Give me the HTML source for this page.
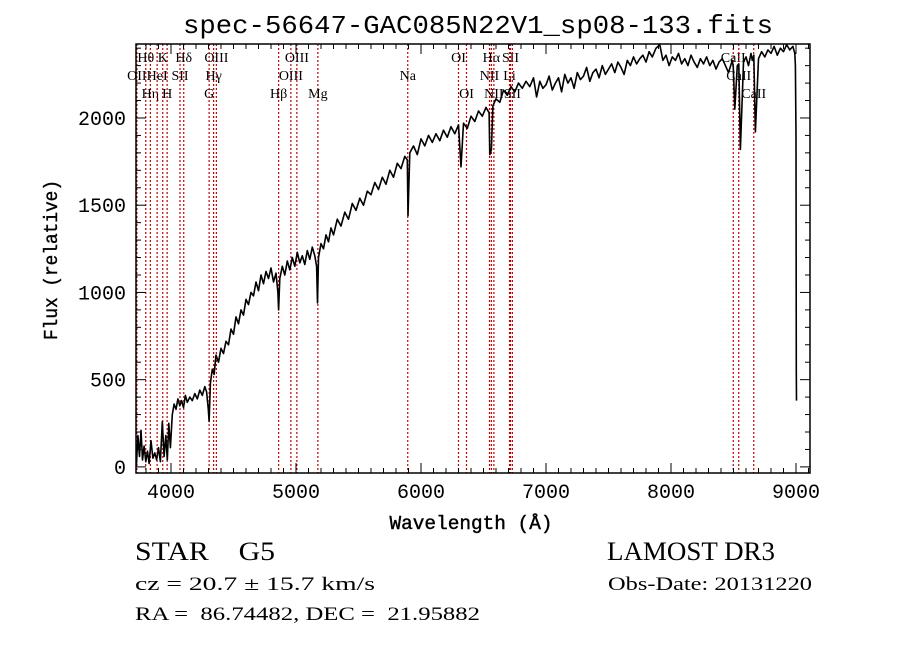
<!DOCTYPE html>
<html><head><meta charset="utf-8"><style>
html,body{margin:0;padding:0;background:#fff;}
svg{display:block;}
text{fill:#000;white-space:pre;}
</style></head><body>
<svg id="chart" width="900" height="649" viewBox="0 0 900 649" xmlns="http://www.w3.org/2000/svg" xml:space="preserve">
<rect width="900" height="649" fill="#fff"/>
<text x="478" y="33" font-family="Liberation Mono, monospace" font-size="26" text-anchor="middle" textLength="590" lengthAdjust="spacingAndGlyphs">spec-56647-GAC085N22V1_sp08-133.fits</text>
<g id="lines"></g>
<g id="spec"></g>
<g id="axes"></g>
<text x="471" y="529" font-family="Liberation Mono, monospace" font-size="19" text-anchor="middle" textLength="163" lengthAdjust="spacingAndGlyphs" stroke="#000" stroke-width="0.4">Wavelength (Å)</text>
<text transform="translate(57,260) rotate(-90)" font-family="Liberation Mono, monospace" font-size="19" text-anchor="middle" textLength="160" lengthAdjust="spacingAndGlyphs" stroke="#000" stroke-width="0.4">Flux (relative)</text>
<text x="135" y="560" font-family="Liberation Serif, serif" font-size="26" textLength="140" lengthAdjust="spacingAndGlyphs">STAR    G5</text>
<text x="607" y="560" font-family="Liberation Serif, serif" font-size="26" textLength="168" lengthAdjust="spacingAndGlyphs">LAMOST DR3</text>
<text x="135" y="590" font-family="Liberation Serif, serif" font-size="19" textLength="240" lengthAdjust="spacingAndGlyphs">cz = 20.7 ± 15.7 km/s</text>
<text x="608" y="590" font-family="Liberation Serif, serif" font-size="19" textLength="204" lengthAdjust="spacingAndGlyphs">Obs-Date: 20131220</text>
<text x="135" y="620" font-family="Liberation Serif, serif" font-size="19" textLength="345" lengthAdjust="spacingAndGlyphs">RA =  86.74482, DEC =  21.95882</text>
</svg>
<script>
const wavelengths = [3722,3735,3748,3760,3772,3785,3798,3812,3825,3840,3855,3870,3885,3900,3915,3930,3945,3958,3970,3982,3995,4010,4025,4040,4055,4070,4085,4100,4115,4130,4150,4170,4190,4210,4230,4250,4270,4285,4298,4305,4315,4330,4345,4360,4380,4400,4420,4440,4460,4480,4500,4520,4540,4560,4580,4600,4620,4640,4660,4680,4700,4720,4740,4760,4780,4800,4820,4840,4855,4861,4870,4890,4910,4930,4950,4970,4990,5010,5030,5050,5070,5090,5110,5130,5150,5165,5172,5180,5200,5220,5240,5260,5280,5300,5330,5360,5390,5420,5450,5480,5510,5540,5570,5600,5630,5660,5690,5720,5750,5780,5810,5840,5870,5890,5896,5910,5940,5970,6000,6030,6060,6090,6120,6150,6180,6210,6240,6270,6300,6320,6340,6370,6400,6430,6460,6490,6520,6545,6550,6563,6575,6600,6630,6660,6690,6720,6750,6780,6810,6840,6870,6900,6925,6950,6975,7000,7025,7050,7075,7100,7125,7150,7175,7200,7225,7250,7275,7300,7325,7350,7375,7400,7425,7450,7475,7500,7525,7550,7575,7600,7625,7650,7675,7700,7725,7750,7775,7800,7825,7850,7880,7910,7935,7960,7985,8010,8035,8060,8085,8110,8135,8160,8185,8210,8235,8260,8285,8310,8335,8360,8385,8410,8435,8460,8490,8498,8510,8530,8542,8555,8580,8600,8620,8640,8650,8662,8675,8700,8725,8750,8775,8800,8825,8850,8875,8900,8925,8950,8975,8990,8995,9000,9002,9004];
const fluxes = [0,180,60,210,40,120,30,90,20,150,50,80,40,110,30,260,60,180,40,250,110,300,360,330,390,350,380,340,410,370,400,380,420,390,440,410,460,430,330,260,480,560,530,640,600,680,650,720,700,790,760,860,820,900,870,960,930,1000,980,1060,1010,1100,1050,1120,1080,1140,1060,1110,1000,900,1080,1150,1100,1180,1130,1200,1150,1230,1170,1210,1160,1240,1190,1260,1210,1150,940,1200,1280,1250,1330,1290,1370,1330,1420,1380,1460,1420,1510,1470,1540,1500,1580,1560,1630,1590,1660,1620,1700,1660,1740,1710,1780,1760,1440,1800,1840,1790,1880,1840,1900,1860,1910,1870,1930,1890,1950,1910,1960,1720,1970,1940,2010,1980,2040,2010,2060,2030,1790,1820,2070,2110,2090,2160,2130,2180,2150,2200,2170,2210,2180,2230,2120,2210,2170,2190,2240,2160,2200,2230,2150,2250,2200,2230,2170,2260,2220,2240,2290,2210,2260,2280,2230,2300,2250,2280,2310,2260,2320,2290,2250,2330,2300,2350,2310,2340,2360,2320,2380,2350,2400,2420,2330,2360,2300,2350,2330,2370,2310,2340,2300,2360,2320,2290,2340,2310,2350,2300,2330,2280,2320,2340,2300,2260,2330,2290,2050,2300,2310,1820,2320,2350,2300,2370,2330,2360,1920,2340,2380,2350,2390,2370,2410,2360,2400,2380,2420,2390,2410,2370,2300,1900,550,380,0];
const lineWaves = [3727,3798,3835,3889,3934,3969,4072,4102,4305,4341,4363,4861,4959,5007,5175,5894,6300,6364,6548,6563,6583,6708,6716,6731,8498,8542,8662];
const lineNames = ["OII","Hθ","Hη","HeI","K","H","SII","Hδ","G","Hγ","OIII","Hβ","OIII","OIII","Mg","Na","OI","OI","NII","Hα","NII","Li","SII","SII","CaII","CaII","CaII"];
const lineRows = [1,0,2,1,0,2,1,0,2,1,0,2,1,0,2,1,0,2,1,0,2,1,0,2,0,1,2];
const xTicks = [4000,5000,6000,7000,8000,9000];
const yTicks = [0,500,1000,1500,2000];

const X0=136,X1=810,Y0=44,Y1=473;
const LMIN=3720,LMAX=9112,FMIN=-35,FMAX=2424;
function xs(l){return X0+(l-LMIN)/(LMAX-LMIN)*(X1-X0);}
function ys(f){return Y1-(f-FMIN)/(FMAX-FMIN)*(Y1-Y0);}
const NS="http://www.w3.org/2000/svg";
function mk(tag,attrs,parent){const e=document.createElementNS(NS,tag);for(const k in attrs)e.setAttribute(k,attrs[k]);parent.appendChild(e);return e;}

const gl=document.getElementById('lines');
const rowY=[62,80,98];
lineWaves.forEach((w,i)=>{
  const x=xs(w);
  const ln=mk('line',{x1:x,x2:x,y1:Y0,y2:Y1,stroke:'#c00000','stroke-width':1.2,'stroke-dasharray':'2,2'},gl);
  
  
  const t=mk('text',{x:x,y:rowY[lineRows[i]],'font-family':'Liberation Serif, serif','font-size':14,'text-anchor':'middle'},gl);
  t.textContent=lineNames[i];
  
  
});

const gs=document.getElementById('spec');
const pts=wavelengths.map((w,i)=>xs(w).toFixed(1)+','+ys(fluxes[i]).toFixed(1)).join(' ');
const pl=mk('polyline',{points:pts,fill:'none',stroke:'#000','stroke-width':1.6,'stroke-linejoin':'round'},gs);



const ga=document.getElementById('axes');
const fr=mk('rect',{x:X0,y:Y0,width:X1-X0,height:Y1-Y0,fill:'none',stroke:'#000','stroke-width':1.5},ga);


for(let l=3800;l<=9100;l+=100){
  const x=xs(l);const major=l%1000===0;const len=major?10:5;
  mk('line',{x1:x,x2:x,y1:Y1,y2:Y1-len,stroke:'#000'},ga);
  mk('line',{x1:x,x2:x,y1:Y0,y2:Y0+len,stroke:'#000'},ga);
}
xTicks.forEach(v=>{
  const t=mk('text',{x:xs(v),y:Y1+25,'font-family':'Liberation Mono, monospace','font-size':20,'text-anchor':'middle'},ga);
  t.textContent=v;
  
  
});
for(let f=0;f<=2400;f+=100){
  const y=ys(f);const major=f%500===0;const len=major?10:5;
  mk('line',{x1:X0,x2:X0+len,y1:y,y2:y,stroke:'#000'},ga);
  mk('line',{x1:X1,x2:X1-len,y1:y,y2:y,stroke:'#000'},ga);
}
yTicks.forEach(v=>{
  const t=mk('text',{x:X0-10,y:ys(v)+7,'font-family':'Liberation Mono, monospace','font-size':20,'text-anchor':'end'},ga);
  t.textContent=v;
  
  
});
</script>
</body></html>
